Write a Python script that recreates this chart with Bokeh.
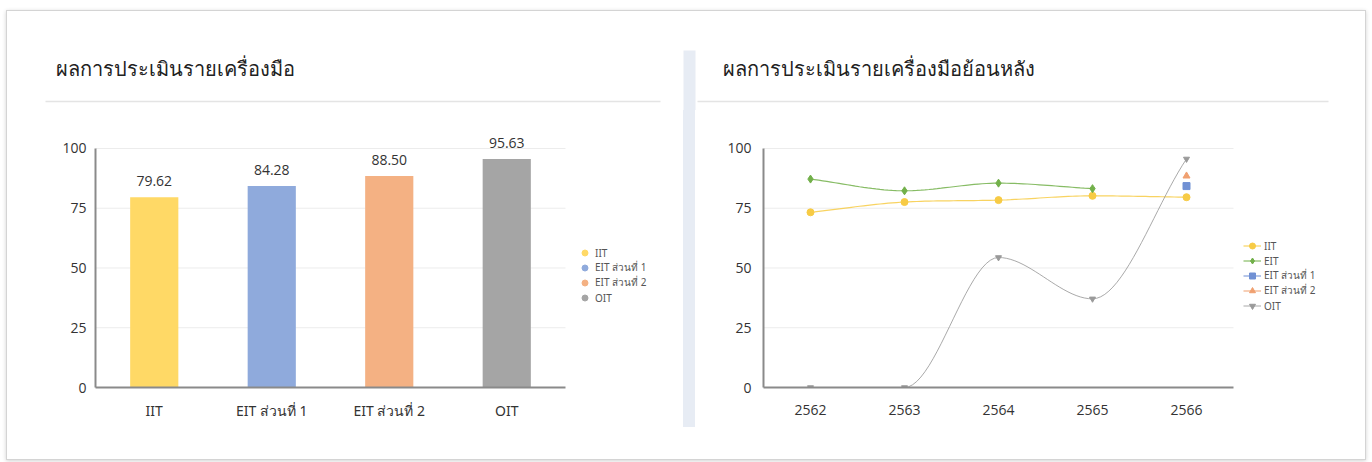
import numpy as np
from bokeh.plotting import figure
from bokeh.layouts import column, row
from bokeh.models import Range1d, FixedTicker, Legend, LegendItem, ColumnDataSource, Div
from bokeh.embed import file_html
from bokeh.resources import INLINE
from bokeh.core.properties import value

# ---------------- data ----------------
title_left = "ผลการประเมินรายเครื่องมือ"
title_right = "ผลการประเมินรายเครื่องมือย้อนหลัง"

categories = ["IIT", "EIT ส่วนที่ 1", "EIT ส่วนที่ 2", "OIT"]
scores = [79.62, 84.28, 88.50, 95.63]
bar_colors = ["#FFD966", "#8FAADC", "#F4B183", "#A5A5A5"]

years = [2562, 2563, 2564, 2565, 2566]
year_labels = ["2562", "2563", "2564", "2565", "2566"]
iit_hist = [73.3, 77.6, 78.4, 80.2, 79.62]
eit_hist = [87.2, 82.3, 85.5, 83.2, None]
eit1_hist = [None, None, None, None, 84.28]
eit2_hist = [None, None, None, None, 88.50]
oit_hist = [0, 0, 54.4, 37.1, 95.63]
line_names = ["IIT", "EIT", "EIT ส่วนที่ 1", "EIT ส่วนที่ 2", "OIT"]
y_ticks = [0, 25, 50, 75, 100]

FONT = "Open Sans"
THAI = "Noto Sans"
TXT = "#333333"
AXIS = "#8a8a8a"
GRID = "#ececec"
DIVIDER = "#e7ecf4"

TOP_H = 99
ROW_H = 349
Y_END = 112.55


def monotone_curve(xs, ys, n=24):
    """Monotone cubic (Fritsch-Carlson, as Chart.js) through the valid points."""
    pts = [(x, y) for x, y in zip(xs, ys) if y is not None]
    px = np.array([p[0] for p in pts], float)
    py = np.array([p[1] for p in pts], float)
    k = len(px)
    if k < 2:
        return px.tolist(), py.tolist()
    d = np.diff(py) / np.diff(px)
    m = np.zeros(k)
    m[0] = d[0]
    m[-1] = d[-1]
    for i in range(1, k - 1):
        if np.sign(d[i - 1]) != np.sign(d[i]):
            m[i] = 0.0
        else:
            m[i] = (d[i - 1] + d[i]) / 2
    for i in range(k - 1):
        if d[i] == 0:
            m[i] = 0.0
            m[i + 1] = 0.0
            continue
        a = m[i] / d[i]
        b = m[i + 1] / d[i]
        s = a * a + b * b
        if s > 9:
            t = 3 / np.sqrt(s)
            m[i] = a * t * d[i]
            m[i + 1] = b * t * d[i]
    cx, cy = [], []
    t = np.linspace(0, 1, n)
    for i in range(k - 1):
        dx = (px[i + 1] - px[i]) / 3
        P0 = (px[i], py[i])
        P1 = (px[i] + dx, py[i] + m[i] * dx)
        P2 = (px[i + 1] - dx, py[i + 1] - m[i + 1] * dx)
        P3 = (px[i + 1], py[i + 1])
        bx = (1 - t) ** 3 * P0[0] + 3 * (1 - t) ** 2 * t * P1[0] + 3 * (1 - t) * t ** 2 * P2[0] + t ** 3 * P3[0]
        by = (1 - t) ** 3 * P0[1] + 3 * (1 - t) ** 2 * t * P1[1] + 3 * (1 - t) * t ** 2 * P2[1] + t ** 3 * P3[1]
        if i > 0:
            bx, by = bx[1:], by[1:]
        cx.extend(bx.tolist())
        cy.extend(by.tolist())
    return cx, cy


def style_axes(p, x_lo, x_hi, y_standoff, x_standoff):
    p.outline_line_color = None
    p.xgrid.grid_line_color = None
    p.ygrid.grid_line_color = None
    # horizontal grid lines limited to the plotted span (legend sits to the right)
    gy = y_ticks[1:]
    p.segment(x0=[x_lo] * len(gy), x1=[x_hi] * len(gy), y0=gy, y1=gy,
              line_color=GRID, line_width=1)
    p.yaxis.ticker = FixedTicker(ticks=y_ticks)
    p.yaxis.bounds = (0, 100)
    p.xaxis.bounds = (x_lo, x_hi)
    for ax in (p.xaxis, p.yaxis):
        ax.axis_line_color = AXIS
        ax.axis_line_width = 2
        ax.major_tick_line_color = None
        ax.minor_tick_line_color = None
        ax.major_label_text_color = TXT
        ax.major_label_text_font = FONT
        ax.major_label_text_font_size = "14px"
    p.yaxis.major_label_standoff = y_standoff
    p.xaxis.major_label_standoff = x_standoff


def make_legend(items, loc, gw):
    return Legend(items=items, location=loc, border_line_color=None,
                  background_fill_alpha=0, label_text_font_size="10px",
                  label_text_color="#555555", label_text_font=THAI,
                  glyph_width=gw, glyph_height=15, label_height=15,
                  spacing=0, padding=4, margin=0, label_standoff=3)


# ---------------- header strip ----------------
top = figure(width=1358, height=TOP_H, x_range=Range1d(0, 1358), y_range=Range1d(TOP_H, 0),
             x_axis_location=None, y_axis_location=None, toolbar_location=None,
             output_backend="svg", min_border=0)
top.outline_line_color = None
top.grid.visible = False
top.text(x=[48, 715], y=[57, 57], text=[title_left, title_right],
         text_font=value(THAI), text_font_size="20px", text_baseline="middle",
         text_color="#222222")
top.segment(x0=[38, 690], y0=[90, 90], x1=[653, 1321], y1=[90, 90],
            line_color="#e4e4e4", line_width=1.5)
top.quad(left=[676], right=[688], top=[39], bottom=[TOP_H], fill_color=DIVIDER,
         line_color=None)

# ---------------- bar chart ----------------
pos = list(range(1, len(categories) + 1))
n_cat = len(categories)
p1 = figure(width=676, height=ROW_H, x_range=Range1d(0.5, 0.5 + 575 / 117.5),
            y_range=Range1d(0, Y_END), toolbar_location=None, output_backend="svg",
            min_border_left=88, min_border_right=13, min_border_top=8, min_border_bottom=72)
style_axes(p1, 0.5, n_cat + 0.5, 3, 7)
p1.xaxis.ticker = FixedTicker(ticks=pos)
p1.xaxis.major_label_overrides = {i: c for i, c in zip(pos, categories)}
p1.xaxis.major_label_text_font = THAI
src = ColumnDataSource(dict(x=pos, score=scores, color=bar_colors,
                            label=["%.2f" % s for s in scores]))
p1.vbar(x="x", top="score", width=0.41, fill_color="color", line_color=None, source=src)
p1.text(x="x", y="score", text="label", source=src, y_offset=-16, text_align="center",
        text_baseline="middle", text_font=value(FONT), text_font_size="14px", text_color=TXT)

items1 = []
for c, col in zip(categories, bar_colors):
    r = p1.scatter(x=[np.nan], y=[np.nan], marker="circle", fill_color=col, line_color=col)
    items1.append(LegendItem(label=c, renderers=[r]))
p1.add_layout(make_legend(items1, (482, 82), 15))

# ---------------- divider ----------------
div = Div(text="", width=12, height=317, margin=(0, 0, 0, 0),
          styles={"background-color": DIVIDER})

# ---------------- line chart ----------------
p2 = figure(width=670, height=ROW_H, x_range=Range1d(2561.5, 2561.5 + 597 / 94),
            y_range=Range1d(0, Y_END), toolbar_location=None, output_backend="svg",
            min_border_left=68, min_border_right=5, min_border_top=8, min_border_bottom=72)
style_axes(p2, years[0] - 0.5, years[-1] + 0.5, 6, 11)
p2.xaxis.ticker = FixedTicker(ticks=years)
p2.xaxis.major_label_overrides = {y: l for y, l in zip(years, year_labels)}

series = [
    (iit_hist, "#F7CB45", "circle", 7, 1.2),
    (eit_hist, "#72B04A", "diamond", 8, 1.2),
    (eit1_hist, "#7191D4", "square", 7, 1.2),
    (eit2_hist, "#F0A070", "triangle", 7, 1.2),
    (oit_hist, "#9a9a9a", "inverted_triangle", 6, 1.0),
]
items2 = []
for (vals, col, mk, sz, lw), name in zip(series, line_names):
    cx, cy = monotone_curve(years, vals)
    lr = p2.line(x=cx, y=cy, line_color=col, line_width=lw, line_alpha=0.85)
    yv = [np.nan if v is None else v for v in vals]
    sr = p2.scatter(x=years, y=yv, marker=mk, size=sz, fill_color=col, line_color=col)
    items2.append(LegendItem(label=name, renderers=[lr, sr]))
p2.add_layout(make_legend(items2, (480, 74), 18))

layout = column(top, row(p1, div, p2, spacing=0), spacing=0,
                styles={"border": "1px solid #d4d4d4",
                        "box-shadow": "0 1px 4px rgba(0,0,0,0.18)",
                        "margin-left": "6px", "margin-top": "10px"})

open("out.html", "w").write(file_html(layout, INLINE))
